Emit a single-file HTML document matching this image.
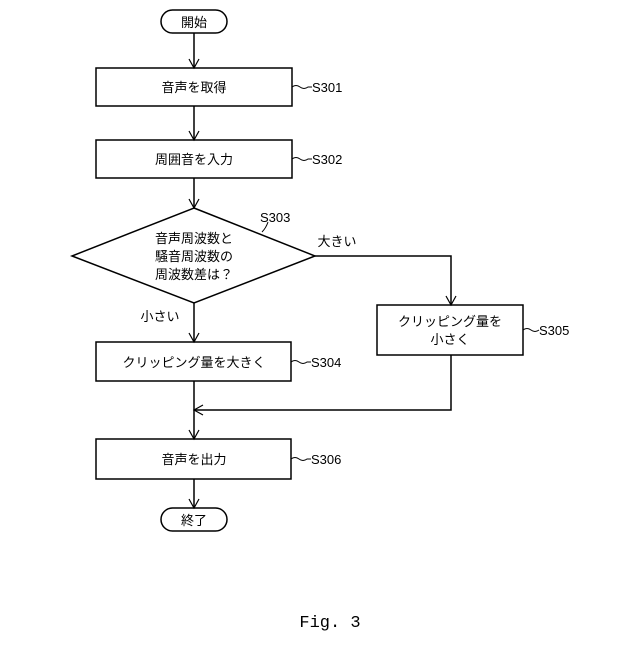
<!DOCTYPE html>
<html><head><meta charset="utf-8"><style>
body{margin:0;background:#fff}
svg text{font-family:"Liberation Sans","Noto Sans CJK JP",sans-serif;fill:#000}
</style></head><body>
<svg width="640" height="640" viewBox="0 0 640 640" xmlns="http://www.w3.org/2000/svg">
<g fill="none" stroke="#000" stroke-width="1.5">
<rect x="161" y="10" width="66" height="23" rx="11.5"/>
<rect x="96" y="68" width="196" height="38"/>
<rect x="96" y="140" width="196" height="38"/>
<polygon points="194,208 315,256 194,303 72,256"/>
<rect x="96" y="342" width="195" height="39"/>
<rect x="377" y="305" width="146" height="50"/>
<rect x="96" y="439" width="195" height="40"/>
<rect x="161" y="508" width="66" height="23" rx="11.5"/>
<path d="M194 33V68M194 106V140M194 178V208M194 303V342M194 381V439M194 479V508M315 256H451V305M451 355V410H194"/>
<path d="M189 59L194 68L199 59M189 131L194 140L199 131M189 199L194 208L199 199M189 333L194 342L199 333M189 430L194 439L199 430M189 499L194 508L199 499M446 296L451 305L456 296M203 405L194 410L203 415" stroke-width="1.2"/>
<path d="M292 87q4-3 8 0t8 0h4M292 159q4-3 8 0t8 0h4M291 362q4-3 8 0t8 0h4M291 459q4-3 8 0t8 0h4M523 330q4-3 8 0t8 0M262 232q4-4 6-10" stroke-width="1"/>
</g>
<g font-size="13" text-anchor="middle">
<text x="194" y="27">開始</text>
<text x="194" y="92">音声を取得</text>
<text x="194" y="164">周囲音を入力</text>
<text x="194" y="243">音声周波数と</text>
<text x="194" y="261">騒音周波数の</text>
<text x="194" y="279">周波数差は？</text>
<text x="194" y="367">クリッピング量を大きく</text>
<text x="450" y="326">クリッピング量を</text>
<text x="450" y="344">小さく</text>
<text x="194" y="464">音声を出力</text>
<text x="194" y="525">終了</text>
<text x="337" y="246">大きい</text>
<text x="160" y="321">小さい</text>
</g>
<g font-size="13" font-family="Liberation Sans Narrow,Liberation Sans,sans-serif">
<text x="312" y="92">S301</text>
<text x="312" y="164">S302</text>
<text x="260" y="222">S303</text>
<text x="311" y="367">S304</text>
<text x="539" y="335">S305</text>
<text x="311" y="464">S306</text>
</g>
<text x="330" y="627" font-size="17" text-anchor="middle" style="font-family:'Liberation Mono',monospace">Fig. 3</text>
</svg>
</body></html>
